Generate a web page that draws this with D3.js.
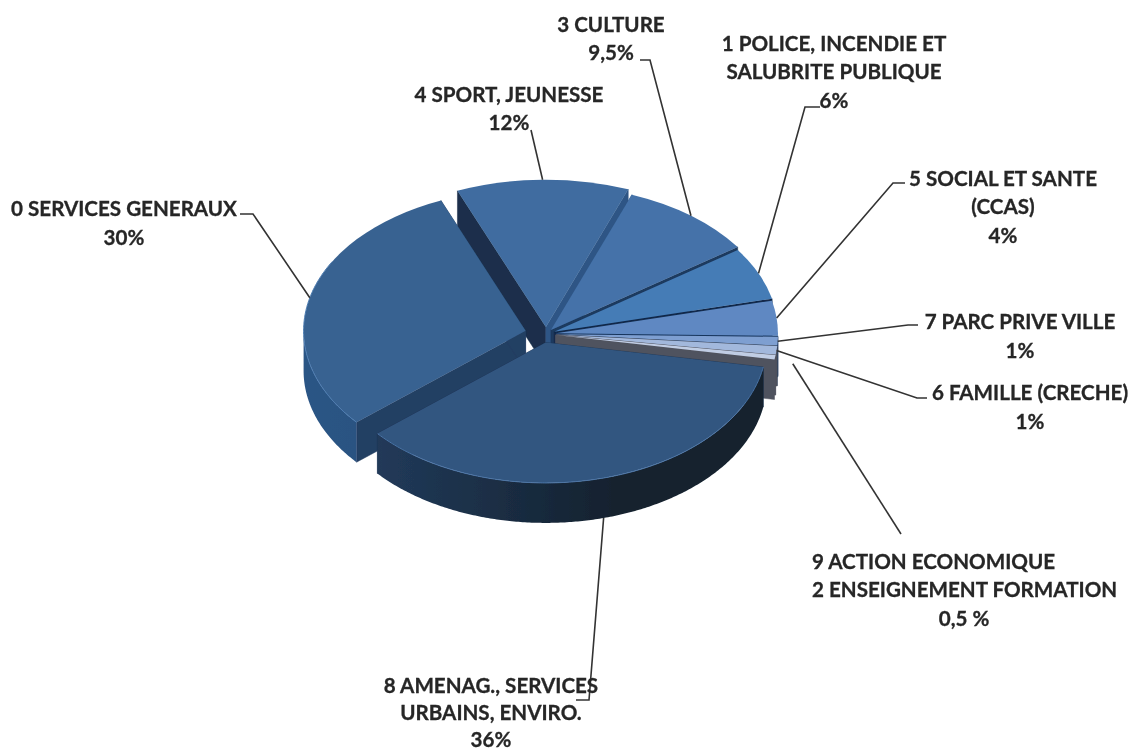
<!DOCTYPE html>
<html><head><meta charset="utf-8">
<style>html,body{margin:0;padding:0;background:#fff}svg{display:block}text{font-family:Lato,"Open Sans",sans-serif;font-weight:700;fill:#262626;stroke:#262626;stroke-width:.3}</style>
<script src="https://d3js.org/d3.v7.min.js"></script></head><body>
<script>
// Data, clockwise from the start angle
const categories = ["8 AMENAG., SERVICES URBAINS, ENVIRO.","0 SERVICES GENERAUX","4 SPORT, JEUNESSE","3 CULTURE","1 POLICE, INCENDIE ET SALUBRITE PUBLIQUE","5 SOCIAL ET SANTE (CCAS)","7 PARC PRIVE VILLE","6 FAMILLE (CRECHE)","9 ACTION ECONOMIQUE / 2 ENSEIGNEMENT FORMATION"];
const values = [36,30,12,9.5,6,4,1,1,0.5];
const labelLines = [["8 AMENAG., SERVICES","URBAINS, ENVIRO.","36%"],["0 SERVICES GENERAUX","30%"],["4 SPORT, JEUNESSE","12%"],["3 CULTURE","9,5%"],["1 POLICE, INCENDIE ET","SALUBRITE PUBLIQUE","6%"],["5 SOCIAL ET SANTE","(CCAS)","4%"],["7 PARC PRIVE VILLE","1%"],["6 FAMILLE (CRECHE)","1%"],["9 ACTION ECONOMIQUE","2 ENSEIGNEMENT FORMATION","0,5 %"]];

// Styling
const topColors   = ["#325680","#386291","#3f6ca0","#4472a9","#457cb6","#5e88c2","#7e9fd1","#a2b8dc","#c0cde4"];
const outerLeft   = ["#243f63","#2c5585","#2a4e78","#2a4e78","#1f3a5e","#50535e","#50535e","#50535e","#50535e"];
const outerRight  = ["#14222f","#274a73","#2a4e78","#2a4e78","#1f3a5e","#50535e","#50535e","#50535e","#50535e"];
const startWall   = ["#1b3352","#243f63","#1a2f4b","#2e5585","#1d3a60","#173459","#1d3a60","#50535e","#50535e"];
const endWall     = ["#1b3352","#243f63","#2e5585","#1f3a5e","#12294a","#17345c","#1d3a60","#50535e","#50535e"];
const rimColors   = ["#4a74a6","#4a7ab0",null,null,null,null,null,null,null];
const explode     = [14,21,11,8,9,10,10,10,10];
const explodeNudgeX = [-4,0,0,0,0,0,0,0,0];
const radii       = [221,222,232,228,224,222,222,222,222];
const drawOrder   = [2,3,4,5,6,7,8,1,0];
// label layout
const labelX      = [491,124,509,611,834,1003,1020,1030,964];
const labelY      = [693,215.5,101.5,31.5,50.5,185.5,328.5,399.5,568.5];
const labelLeftLines = [null,null,null,null,null,null,null,null,[812,812,null]];
const lineGap = [27,29,28,28,28.5,28.5,29,29,28.5];
// leader elbows: [label-side point, elbow]
const elbows = [[[576,700],[589,700]],[[240,214],[253,214]],[[531,130],[531,130]],[[640,60],[650,60]],[[820,107],[805,107]],[[905,183],[893,183]],[[918,325],[908,325]],[[927,398],[917,398]],[[901,534],[901,534]]];
const leaderAngleShift = [0,0,0,0,0,0,0,0,-7];
const leaderDepth = [1,0,0,0,0,0,0,0,0];
const leaderGap = [0,0,0,0,0,0,0,0,28];

const W = 1133, H = 751, tilt = 0.635, depth = 40;
const baseX = 546, baseY = 334;
const rad = d => d * Math.PI / 180;

const svg = d3.select("body").append("svg").attr("width", W).attr("height", H);
const defs = svg.append("defs");
defs.append("filter").attr("id","soft").attr("x","-5%").attr("y","-5%").attr("width","110%").attr("height","110%")
  .append("feGaussianBlur").attr("stdDeviation",0.55);
defs.append("filter").attr("id","softText").attr("x","-5%").attr("y","-20%").attr("width","110%").attr("height","140%")
  .append("feGaussianBlur").attr("stdDeviation",0.3);

const pie = d3.pie().sort(null).value(d => d).startAngle(rad(100)).endAngle(rad(460));
const arcs = pie(values);
const arcGen = d3.arc().innerRadius(0);

function center(i){
  const a = (arcs[i].startAngle + arcs[i].endAngle)/2;
  return [baseX + explodeNudgeX[i] + explode[i]*Math.sin(a), baseY - explode[i]*Math.cos(a)*tilt];
}
function onRim(i,a){
  const c = center(i);
  return [c[0] + radii[i]*Math.sin(a), c[1] - radii[i]*Math.cos(a)*tilt];
}
const line = d3.line();
const chart = svg.append("g").attr("filter","url(#soft)");

// outer wall gradients
arcs.forEach((d,i)=>{
  const g = defs.append("linearGradient").attr("id","wall"+i).attr("gradientUnits","userSpaceOnUse")
    .attr("x1",center(i)[0]-radii[i]).attr("x2",center(i)[0]+radii[i]*0.3).attr("y1",0).attr("y2",0);
  g.append("stop").attr("offset",0).attr("stop-color",outerLeft[i]);
  g.append("stop").attr("offset",1).attr("stop-color",outerRight[i]);
});

drawOrder.forEach(i=>{
  const d = arcs[i], c = center(i), g = chart.append("g");
  const wall = (a,col)=>{
    const p = onRim(i,a);
    g.append("path").attr("fill",col).attr("stroke",col).attr("stroke-width",0.5)
      .attr("d", line([c,p,[p[0],p[1]+depth],[c[0],c[1]+depth]])+"Z");
  };
  wall(d.startAngle,startWall[i]);
  wall(d.endAngle,endWall[i]);
  // outer wall: only the front half of the ellipse shows
  const a0 = Math.max(d.startAngle,rad(90)), a1 = Math.min(d.endAngle,rad(270));
  if(a1>a0){
    const pts = d3.range(a0,a1,0.01).concat([a1]).map(a=>onRim(i,a));
    const low = pts.slice().reverse().map(p=>[p[0],p[1]+depth]);
    g.append("path").attr("fill","url(#wall"+i+")").attr("d",line(pts.concat(low))+"Z");
  }
  // top face
  g.append("path").attr("transform",`translate(${c[0]},${c[1]}) scale(1,${tilt})`)
    .attr("fill",topColors[i])
    .attr("d",arcGen.outerRadius(radii[i])({startAngle:d.startAngle,endAngle:d.endAngle}));
  if(rimColors[i]&&a1>a0){
    const e0=Math.max(a0,d.startAngle), e1=i===1?d.endAngle:a1;
    const pts=d3.range(e0,Math.min(e1,rad(300)),0.01).map(a=>onRim(i,a));
    g.append("path").attr("fill","none").attr("stroke",rimColors[i]).attr("stroke-width",1).attr("d",line(pts));
  }
});

// leaders
const leaders = svg.append("g").attr("fill","none").attr("stroke","#333").attr("stroke-width",1.6);
arcs.forEach((d,i)=>{
  const mid=(d.startAngle+d.endAngle)/2+rad(leaderAngleShift[i]);
  const p=onRim(i,mid);
  const end=[p[0],p[1]+leaderDepth[i]*depth];
  const el=elbows[i];
  let anchor=end;
  if(leaderGap[i]){
    const dx=el[1][0]-end[0], dy=el[1][1]-end[1], L=Math.hypot(dx,dy);
    anchor=[end[0]+dx/L*leaderGap[i],end[1]+dy/L*leaderGap[i]];
  }
  leaders.append("path").attr("d",line([el[0],el[1],anchor]));
});

// labels
const labels = svg.append("g").attr("filter","url(#softText)").attr("font-size",20.6);
labelLines.forEach((lines,i)=>{
  lines.forEach((t,j)=>{
    const left = labelLeftLines[i] && labelLeftLines[i][j];
    labels.append("text").attr("x",left||labelX[i]).attr("y",labelY[i]+j*lineGap[i])
      .attr("text-anchor",left?"start":"middle").text(t);
  });
});
</script></body></html>
